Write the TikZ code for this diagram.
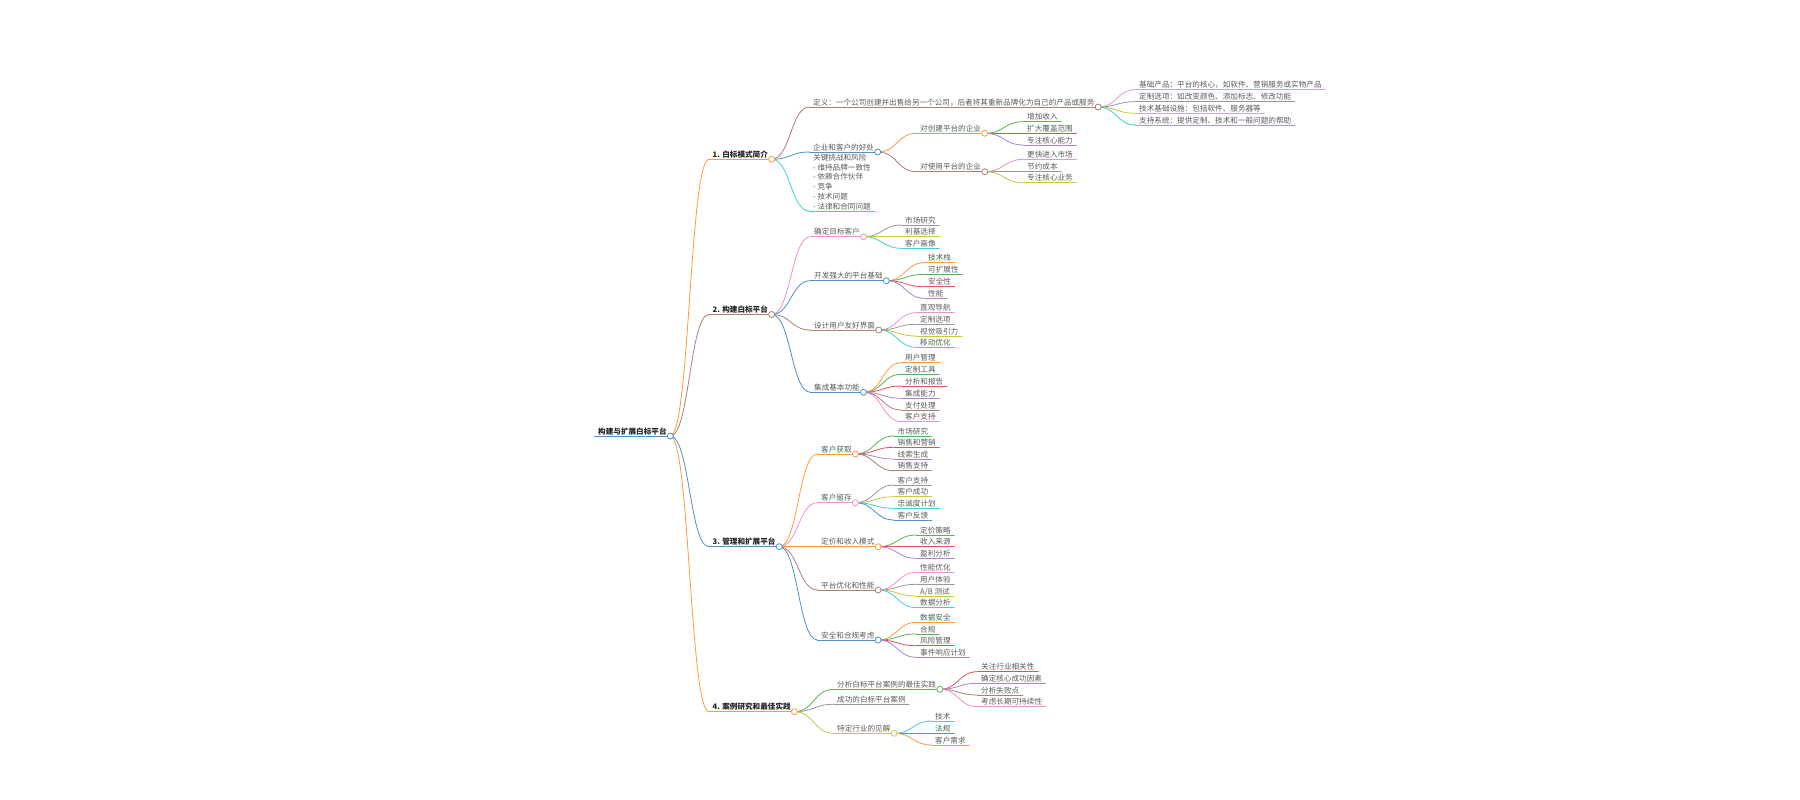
\documentclass[tikz,border=0pt]{standalone}
\usepackage{fontspec}
\setmainfont{Noto Sans CJK SC}
\usetikzlibrary{calc}
\definecolor{b0}{HTML}{1F77B4}
\definecolor{b1}{HTML}{FF7F0E}
\definecolor{b2}{HTML}{2CA02C}
\definecolor{b3}{HTML}{D62728}
\definecolor{b4}{HTML}{9467BD}
\definecolor{b5}{HTML}{8C564B}
\definecolor{b6}{HTML}{E377C2}
\definecolor{b7}{HTML}{7F7F7F}
\definecolor{b8}{HTML}{BCBD22}
\definecolor{b9}{HTML}{17BECF}
\colorlet{c0}{b0!80!white}
\colorlet{c1}{b1!80!white}
\colorlet{c2}{b2!80!white}
\colorlet{c3}{b3!80!white}
\colorlet{c4}{b4!80!white}
\colorlet{c5}{b5!75!white}
\colorlet{c6}{b6!80!white}
\colorlet{c7}{b7!80!white}
\colorlet{c8}{b8!85!white}
\colorlet{c9}{b9!80!white}
\definecolor{txt}{HTML}{5A5A5A}
\definecolor{txtdark}{HTML}{222222}
\tikzset{
  mmbase/.style={anchor=south west, inner xsep=3.5pt, inner ysep=0.8pt,
    font=\fontsize{7.6}{9.8}\selectfont, text=txt},
  mm/.style={mmbase, text height=6.6pt, text depth=1pt},
  mmmulti/.style={mmbase, align=left},
  link/.style={line width=0.8pt, line cap=round},
  mmdot/.style={circle, fill=white, minimum size=6pt, inner sep=0pt, line width=0.8pt},
  mmcurve/.style={to path={let \p1=(\tikztostart), \p2=(\tikztotarget) in
    .. controls ({0.5*\x1+0.5*\x2},\y1) and ({0.5*\x1+0.5*\x2},\y2) .. (\tikztotarget)}}
}
% #1 name, #2 parent, #3 colour, #4 x, #5 y, #6 text
\newcommand\MN[6]{%
  \node[mm] (#1) at (#4,#5) {#6};
  \draw[link,draw=#3] (#1.south west) -- (#1.south east);
  \draw[link,draw=#3] (#2.south east) to[mmcurve] (#1.south west);}
\newcommand\DOT[2]{\node[mmdot,draw=#2] (#1-dot) at (#1.south east) {};}
\newcommand\LONE[1]{\textcolor{txtdark}{\bfseries #1}}
\begin{document}
\begin{tikzpicture}[x=1pt,y=-1pt]
\useasboundingbox (0,0) rectangle (1800,800);
% root
\node[mm] (R) at (594.5,436) {\LONE{构建与扩展白标平台}};
\draw[link,draw=c0] (R.south west) -- (R.south east);
% level 1
\MN{A}{R}{c1}{709}{159.3}{\LONE{1. 白标模式简介}}
\MN{B}{R}{c5}{709}{314.5}{\LONE{2. 构建白标平台}}
\MN{C}{R}{c0}{709}{546.7}{\LONE{3. 管理和扩展平台}}
\MN{D}{R}{c1}{709}{711.7}{\LONE{4. 案例研究和最佳实践}}
% section 1
\MN{A1}{A}{c5}{809.5}{107}{定义：一个公司创建并出售给另一个公司，后者将其重新品牌化为自己的产品或服务}
\MN{A2}{A}{c0}{809.5}{152}{企业和客户的好处}
\node[mmmulti] (A3) at (809.5,211) {关键挑战和风险\\- 维持品牌一致性\\- 依赖合作伙伴\\- 竞争\\- 技术问题\\- 法律和合同问题};
\draw[link,draw=c9] (A3.south west) -- (A3.south east);
\draw[link,draw=c9] (A.south east) to[mmcurve] (A3.south west);
\MN{A11}{A1}{c6}{1135.5}{89.7}{基础产品：平台的核心，如软件、营销服务或实物产品}
\MN{A12}{A1}{c7}{1135.5}{101.7}{定制选项：如改变颜色、添加标志、修改功能}
\MN{A13}{A1}{c8}{1135.5}{113.3}{技术基础设施：包括软件、服务器等}
\MN{A14}{A1}{c9}{1135.5}{125}{支持系统：提供定制、技术和一般问题的帮助}
\MN{A21}{A2}{c1}{916.5}{133.3}{对创建平台的企业}
\MN{A22}{A2}{c5}{916.5}{171.7}{对使用平台的企业}
\MN{A211}{A21}{c2}{1023.5}{121.7}{增加收入}
\MN{A212}{A21}{c3}{1023.5}{133.3}{扩大覆盖范围}
\MN{A213}{A21}{c4}{1023.5}{145}{专注核心能力}
\MN{A221}{A22}{c6}{1023.5}{159.3}{更快进入市场}
\MN{A222}{A22}{c7}{1023.5}{171.7}{节约成本}
\MN{A223}{A22}{c8}{1023.5}{182.8}{专注核心业务}
% section 2
\MN{B1}{B}{c6}{810.5}{236.7}{确定目标客户}
\MN{B2}{B}{c0}{810.5}{280.7}{开发强大的平台基础}
\MN{B3}{B}{c5}{810.5}{330}{设计用户友好界面}
\MN{B4}{B}{c0}{810.5}{392.3}{集成基本功能}
\MN{B11}{B1}{c7}{901.5}{225}{市场研究}
\MN{B12}{B1}{c8}{901.5}{236.7}{利基选择}
\MN{B13}{B1}{c9}{901.5}{248.3}{客户画像}
\MN{B21}{B2}{c1}{924.5}{262.7}{技术栈}
\MN{B22}{B2}{c2}{924.5}{274.3}{可扩展性}
\MN{B23}{B2}{c3}{924.5}{286.7}{安全性}
\MN{B24}{B2}{c4}{924.5}{298.3}{性能}
\MN{B31}{B3}{c6}{916.5}{312.7}{直观导航}
\MN{B32}{B3}{c7}{916.5}{324.3}{定制选项}
\MN{B33}{B3}{c8}{916.5}{336}{视觉吸引力}
\MN{B34}{B3}{c9}{916.5}{347.3}{移动优化}
\MN{B41}{B4}{c1}{901.5}{362.7}{用户管理}
\MN{B42}{B4}{c2}{901.5}{374.3}{定制工具}
\MN{B43}{B4}{c3}{901.5}{386}{分析和报告}
\MN{B44}{B4}{c4}{901.5}{398.3}{集成能力}
\MN{B45}{B4}{c5}{901.5}{410}{支付处理}
\MN{B46}{B4}{c6}{901.5}{421.7}{客户支持}
% section 3
\MN{C1}{C}{c1}{817.5}{454}{客户获取}
\MN{C2}{C}{c6}{817.5}{502.7}{客户留存}
\MN{C3}{C}{c1}{817.5}{546.7}{定价和收入模式}
\MN{C4}{C}{c5}{817.5}{590}{平台优化和性能}
\MN{C5}{C}{c0}{817.5}{640}{安全和合规考虑}
\MN{C11}{C1}{c2}{894}{436}{市场研究}
\MN{C12}{C1}{c3}{894}{447.3}{销售和营销}
\MN{C13}{C1}{c4}{894}{459}{线索生成}
\MN{C14}{C1}{c5}{894}{470.7}{销售支持}
\MN{C21}{C2}{c7}{894}{485}{客户支持}
\MN{C22}{C2}{c8}{894}{496.7}{客户成功}
\MN{C23}{C2}{c9}{894}{508.3}{忠诚度计划}
\MN{C24}{C2}{c0}{894}{520}{客户反馈}
\MN{C31}{C3}{c2}{916.5}{535}{定价策略}
\MN{C32}{C3}{c3}{916.5}{546.7}{收入来源}
\MN{C33}{C3}{c4}{916.5}{558.3}{盈利分析}
\MN{C41}{C4}{c6}{916.5}{572.3}{性能优化}
\MN{C42}{C4}{c7}{916.5}{584.3}{用户体验}
\MN{C43}{C4}{c8}{916.5}{596}{A/B 测试}
\MN{C44}{C4}{c9}{916.5}{607.7}{数据分析}
\MN{C51}{C5}{c1}{916.5}{622.3}{数据安全}
\MN{C52}{C5}{c2}{916.5}{634}{合规}
\MN{C53}{C5}{c3}{916.5}{645.7}{风险管理}
\MN{C54}{C5}{c4}{916.5}{657.3}{事件响应计划}
% section 4
\MN{D1}{D}{c2}{833.5}{689.3}{分析白标平台案例的最佳实践}
\MN{D2}{D}{c7}{833.5}{704.3}{成功的白标平台案例}
\MN{D3}{D}{c8}{833.5}{733.3}{特定行业的见解}
\MN{D11}{D1}{c3}{977.5}{671.7}{关注行业相关性}
\MN{D12}{D1}{c4}{977.5}{683.3}{确定核心成功因素}
\MN{D13}{D1}{c5}{977.5}{695}{分析失败点}
\MN{D14}{D1}{c6}{977.5}{706.7}{考虑长期可持续性}
\MN{D31}{D3}{c9}{931.5}{721}{技术}
\MN{D32}{D3}{c0}{931.5}{733.3}{法规}
\MN{D33}{D3}{c1}{931.5}{745}{客户需求}
% circles
\DOT{R}{c0}
\DOT{A}{c1}\DOT{B}{c5}\DOT{C}{c0}\DOT{D}{c1}
\DOT{A1}{c5}\DOT{A2}{c0}\DOT{A21}{c1}\DOT{A22}{c5}
\DOT{B1}{c6}\DOT{B2}{c0}\DOT{B3}{c5}\DOT{B4}{c0}
\DOT{C1}{c1}\DOT{C2}{c6}\DOT{C3}{c1}\DOT{C4}{c5}\DOT{C5}{c0}
\DOT{D1}{c2}\DOT{D3}{c8}
\end{tikzpicture}
\end{document}
